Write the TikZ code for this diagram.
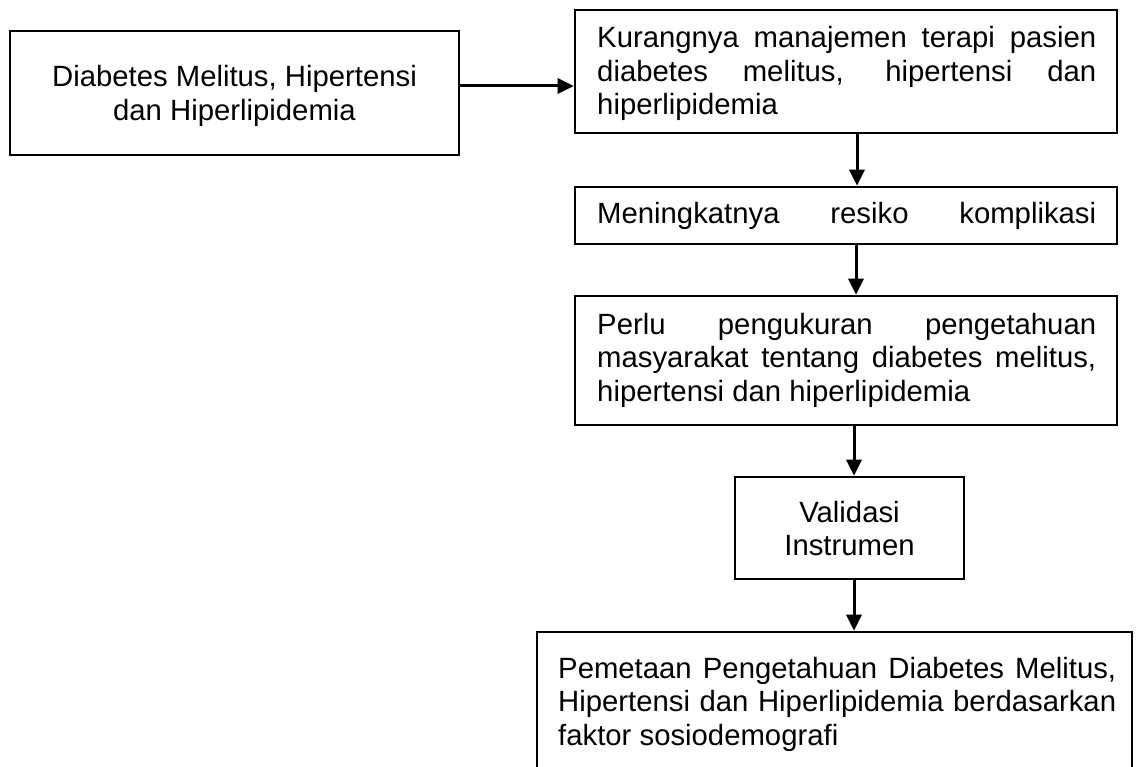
\documentclass[tikz,border=0pt]{standalone}
\usepackage{fontspec}
\setmainfont{Liberation Sans}
\usetikzlibrary{arrows.meta}
\newcommand\jl[2]{\makebox[#1][s]{#2}}
\begin{document}
\begin{tikzpicture}[x=1pt,y=-1pt,
  box/.style={draw, line width=2.6pt, rectangle, inner sep=0pt},
  txt/.style={inner sep=0pt, font=\fontsize{29.3}{33.5}\selectfont},
  arr/.style={-{Triangle[length=16pt,width=15pt]}, line width=3pt}]
\useasboundingbox (0,0) rectangle (1139,767);
\clip (0,0) rectangle (1139,767);
% boxes
\node[box, minimum width=449pt, minimum height=124pt] (A) at (234.5,93) {};
\node[box, minimum width=542pt, minimum height=123pt] (B) at (846,71.5) {};
\node[box, minimum width=542pt, minimum height=57pt] (C) at (846,215.5) {};
\node[box, minimum width=542pt, minimum height=129pt] (D) at (846,360.5) {};
\node[box, minimum width=229pt, minimum height=102pt] (E) at (849.5,528) {};
\node[box, minimum width=595pt, minimum height=168pt] (F) at (834.5,716) {};
% texts
\node[txt, anchor=base] (tA) at (234.5,87)
  {\parbox[t]{440pt}{\centering Diabetes Melitus, Hipertensi\\dan Hiperlipidemia}};
\node[txt, anchor=base west] (tB) at (597,48)
  {\parbox[t]{499pt}{\jl{499pt}{Kurangnya manajemen terapi pasien}\\
   \jl{499pt}{diabetes melitus, hipertensi dan}\\hiperlipidemia}};
\node[txt, anchor=base west] (tC) at (597,223)
  {\jl{499pt}{Meningkatnya resiko komplikasi}};
\node[txt, anchor=base west] (tD) at (597,334)
  {\parbox[t]{499pt}{\jl{499pt}{Perlu pengukuran pengetahuan}\\
   \jl{499pt}{masyarakat tentang diabetes melitus,}\\hipertensi dan hiperlipidemia}};
\node[txt, anchor=base] (tE) at (849.5,522)
  {\parbox[t]{220pt}{\centering Validasi\\Instrumen}};
\node[txt, anchor=base west] (tF) at (558,678)
  {\parbox[t]{558pt}{\jl{558pt}{Pemetaan Pengetahuan Diabetes Melitus,}\\
   \jl{558pt}{Hipertensi dan Hiperlipidemia berdasarkan}\\faktor sosiodemografi}};
% connectors
\coordinate (ay) at (0,86);
\coordinate (x1) at (857,0);
\coordinate (x2) at (856,0);
\coordinate (x3) at (854,0);
\draw[arr] (A.east |- ay) -- (B.west |- ay);
\draw[arr] (B.south -| x1) -- (C.north -| x1);
\draw[arr] (C.south -| x2) -- (D.north -| x2);
\draw[arr] (D.south -| x3) -- (E.north -| x3);
\draw[arr] (E.south -| x3) -- (F.north -| x3);
\end{tikzpicture}
\end{document}
